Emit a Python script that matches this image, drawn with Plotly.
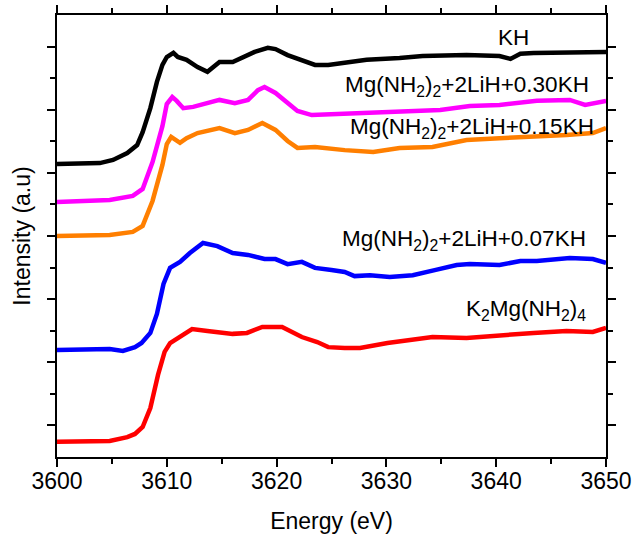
import plotly.graph_objects as go

# ---- data (energy in eV, intensity in arbitrary offset units) ----
kh_energy = [3600.0, 3603.9, 3605.1, 3606.4, 3607.3, 3607.8, 3608.5, 3609.1, 3609.6, 3610.0,
             3610.6, 3611.0, 3611.8, 3612.8, 3613.7, 3614.2, 3614.8, 3616.0, 3616.8, 3618.0,
             3619.2, 3619.9, 3621.0, 3622.3, 3623.5, 3624.7, 3626.0, 3628.2, 3631.2, 3633.3,
             3637.3, 3640.3, 3641.3, 3642.2, 3643.4, 3646.7, 3650.0]
kh_intensity = [9.28, 9.31, 9.41, 9.63, 9.88, 10.29, 11.05, 11.88, 12.42, 12.67,
                12.80, 12.67, 12.58, 12.35, 12.20, 12.35, 12.51, 12.51, 12.64, 12.83,
                12.96, 12.92, 12.73, 12.58, 12.42, 12.42, 12.48, 12.58, 12.64, 12.70,
                12.73, 12.70, 12.61, 12.77, 12.80, 12.83, 12.83]

kh30_energy = [3600.0, 3604.8, 3606.9, 3607.8, 3608.7, 3609.6, 3610.0, 3610.5, 3610.9, 3611.5,
               3612.4, 3613.7, 3614.8, 3616.2, 3617.4, 3618.3, 3618.9, 3619.9, 3621.0, 3621.9,
               3623.2, 3625.8, 3628.2, 3631.2, 3634.9, 3637.6, 3640.3, 3643.7, 3646.7, 3648.1,
               3650.0]
kh30_intensity = [8.08, 8.14, 8.27, 8.49, 9.34, 10.48, 11.18, 11.40, 11.28, 11.05,
                  11.09, 11.21, 11.31, 11.21, 11.31, 11.62, 11.72, 11.53, 11.21, 10.96,
                  10.83, 10.86, 10.90, 10.93, 10.99, 11.12, 11.15, 11.28, 11.31, 11.15,
                  11.28]

kh15_energy = [3600.0, 3604.8, 3606.9, 3607.8, 3608.7, 3609.6, 3610.0, 3610.4, 3611.2, 3611.8,
               3612.8, 3613.9, 3614.8, 3616.2, 3617.4, 3618.7, 3619.9, 3621.0, 3621.9, 3623.5,
               3625.0, 3626.2, 3628.8, 3631.2, 3634.2, 3637.3, 3640.3, 3643.4, 3646.4, 3648.8,
               3650.0]
kh15_intensity = [7.00, 7.03, 7.13, 7.32, 8.11, 9.25, 9.91, 10.14, 9.95, 10.10,
                  10.26, 10.36, 10.42, 10.26, 10.36, 10.58, 10.36, 10.01, 9.79, 9.82,
                  9.76, 9.72, 9.66, 9.79, 9.82, 10.04, 10.10, 10.14, 10.20, 10.26,
                  10.42]

kh07_energy = [3600.0, 3604.8, 3606.0, 3607.1, 3607.7, 3608.5, 3609.1, 3609.7, 3610.3, 3611.2,
               3612.1, 3613.3, 3614.6, 3616.0, 3617.4, 3618.9, 3619.9, 3621.0, 3622.3, 3623.5,
               3625.0, 3626.2, 3627.1, 3628.5, 3630.3, 3632.4, 3634.4, 3636.4, 3637.6, 3640.3,
               3642.2, 3643.7, 3646.7, 3648.8, 3650.0]
kh07_intensity = [3.39, 3.42, 3.36, 3.48, 3.61, 3.93, 4.53, 5.48, 5.99, 6.18,
                  6.46, 6.78, 6.68, 6.46, 6.40, 6.27, 6.27, 6.11, 6.18, 5.99,
                  5.92, 5.86, 5.73, 5.76, 5.70, 5.76, 5.92, 6.08, 6.11, 6.08,
                  6.21, 6.21, 6.30, 6.27, 6.15]

k2mg_energy = [3600.0, 3604.8, 3606.4, 3607.1, 3607.8, 3608.5, 3609.2, 3609.8, 3610.3, 3611.2,
               3612.3, 3613.7, 3616.0, 3617.3, 3618.7, 3620.5, 3622.3, 3623.7, 3624.7, 3626.2,
               3627.6, 3630.1, 3634.2, 3637.3, 3640.3, 3643.4, 3646.4, 3648.8, 3650.0]
k2mg_intensity = [0.48, 0.51, 0.63, 0.73, 0.95, 1.55, 2.60, 3.33, 3.61, 3.80,
                  4.05, 3.99, 3.90, 3.93, 4.12, 4.12, 3.80, 3.64, 3.48, 3.45,
                  3.45, 3.61, 3.80, 3.77, 3.86, 3.93, 3.99, 3.96, 4.09]

x_tick_values = [3600, 3610, 3620, 3630, 3640, 3650]
x_tick_labels = ["3600", "3610", "3620", "3630", "3640", "3650"]

series = [
    ("KH", kh_energy, kh_intensity, "#000000"),
    ("Mg(NH<sub>2</sub>)<sub>2</sub>+2LiH+0.30KH", kh30_energy, kh30_intensity, "#FF00FF"),
    ("Mg(NH<sub>2</sub>)<sub>2</sub>+2LiH+0.15KH", kh15_energy, kh15_intensity, "#FF7F00"),
    ("Mg(NH<sub>2</sub>)<sub>2</sub>+2LiH+0.07KH", kh07_energy, kh07_intensity, "#0000FF"),
    ("K<sub>2</sub>Mg(NH<sub>2</sub>)<sub>4</sub>", k2mg_energy, k2mg_intensity, "#FF0000"),
]

FONT = "Liberation Sans, Arial, sans-serif"

fig = go.Figure()
for name, ex, iy, col in series:
    fig.add_trace(go.Scatter(x=ex, y=iy, mode="lines", name=name,
                             line=dict(color=col, width=4.5), showlegend=False))

# label annotations (x, y in data coords, anchor)
labels = [
    ("KH", 3641.6, 13.30, "center"),
    ("Mg(NH<sub>2</sub>)<sub>2</sub>+2LiH+0.30KH", 3648.6, 11.76, "right"),
    ("Mg(NH<sub>2</sub>)<sub>2</sub>+2LiH+0.15KH", 3649.1, 10.42, "right"),
    ("Mg(NH<sub>2</sub>)<sub>2</sub>+2LiH+0.07KH", 3648.4, 6.88, "right"),
    ("K<sub>2</sub>Mg(NH<sub>2</sub>)<sub>4</sub>", 3648.4, 4.66, "right"),
]
for txt, ax_, ay_, anc in labels:
    fig.add_annotation(x=ax_, y=ay_, text=txt, showarrow=False, xanchor=anc, yanchor="middle",
                       font=dict(family=FONT, size=22.5, color="#000000"))

fig.update_layout(
    width=633, height=538,
    margin=dict(l=57, r=27, t=15, b=81, autoexpand=False),
    paper_bgcolor="white", plot_bgcolor="white",
    font=dict(family=FONT, size=23, color="#000000"),
)
fig.update_xaxes(
    range=[3600, 3650], tickvals=x_tick_values, ticktext=x_tick_labels,
    showgrid=False, zeroline=False, automargin=False,
    showline=True, linecolor="black", linewidth=1.5, mirror="allticks",
    ticks="outside", ticklen=8, tickwidth=1.5, tickcolor="black",
    ticklabelstandoff=-5,
    minor=dict(dtick=5, tick0=3600, ticks="outside", ticklen=5, tickwidth=1.5, tickcolor="black", showgrid=False),
    tickfont=dict(family=FONT, size=23),
    title=dict(text="Energy (eV)", font=dict(family=FONT, size=23), standoff=20),
)
fig.update_yaxes(
    range=[0, 14], tickvals=[1, 3, 5, 7, 9, 11, 13], showticklabels=False,
    showgrid=False, zeroline=False, automargin=False,
    showline=True, linecolor="black", linewidth=1.5, mirror="allticks",
    ticks="outside", ticklen=8, tickwidth=1.5, tickcolor="black",
    minor=dict(tickvals=[2, 4, 6, 8, 10, 12], ticks="outside", ticklen=5, tickwidth=1.5, tickcolor="black", showgrid=False),
    title=dict(text="Intensity (a.u)", font=dict(family=FONT, size=23), standoff=10),
)

fig.write_html("out.html", config={"displayModeBar": False},
               post_script="document.body.style.margin='0';document.body.style.overflow='hidden';")
